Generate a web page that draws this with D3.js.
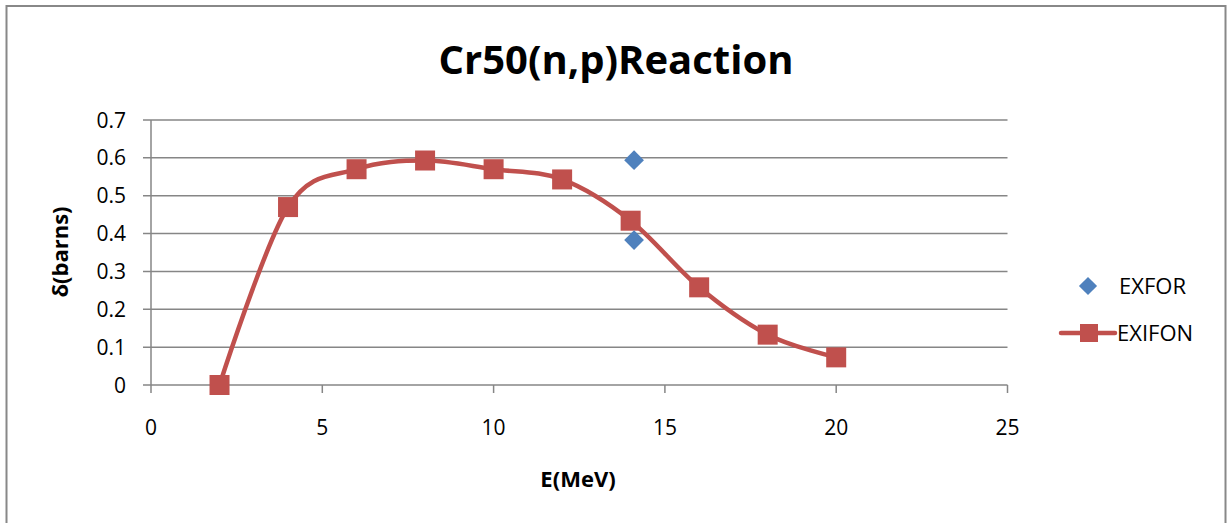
<!DOCTYPE html>
<html>
<head>
<meta charset="utf-8">
<script src="https://cdn.jsdelivr.net/npm/d3@7"></script>
<style>
  body { margin: 0; background: #fff; }
  text { font-family: "Open Sans", "Liberation Sans", sans-serif; fill: #000; }
</style>
</head>
<body>
<script>
// chart values
const exifonE = [2, 4, 6, 8, 10, 12, 14, 16, 18, 20]
const exifonXs = [0, 0.47, 0.57, 0.593, 0.57, 0.543, 0.434, 0.258, 0.133, 0.073]
const exforE = [14.1, 14.1]
const exforXs = [0.594, 0.383]
const xTicks = [0, 5, 10, 15, 20, 25]
const yTicks = [0, 0.1, 0.2, 0.3, 0.4, 0.5, 0.6, 0.7]

const m = { width: 1227, height: 523 }

const svg = d3.select('body').append('svg')
    .attr('width', m.width)
    .attr('height', m.height)

// outer chart border
svg.append('rect')
    .attr('x', 6.5).attr('y', 6)
    .attr('width', 1219).attr('height', 530)
    .attr('fill', 'none')
    .attr('stroke', '#888')
    .attr('stroke-width', 2)

const x = d3.scaleLinear().domain([0, 25]).range([151, 1007.5])
const y = d3.scaleLinear().domain([0, 0.7]).range([385, 120])

const g = svg.append('g')

// horizontal grid lines
g.selectAll('.grid')
    .data(yTicks)
    .enter()
    .append('line')
    .attr('x1', 143)
    .attr('x2', x(25))
    .attr('y1', d => y(d))
    .attr('y2', d => y(d))
    .attr('stroke', '#868686')
    .attr('stroke-width', 1.5)

// y axis line
g.append('line')
    .attr('x1', x(0)).attr('x2', x(0))
    .attr('y1', y(0.7)).attr('y2', y(0))
    .attr('stroke', '#868686')
    .attr('stroke-width', 1.5)

// x tick marks
g.selectAll('.xtick')
    .data(xTicks)
    .enter()
    .append('line')
    .attr('x1', d => x(d)).attr('x2', d => x(d))
    .attr('y1', y(0)).attr('y2', y(0) + 8)
    .attr('stroke', '#868686')
    .attr('stroke-width', 1.5)

// tick labels
g.selectAll('.ylab')
    .data(yTicks)
    .enter()
    .append('text')
    .attr('x', 126)
    .attr('y', d => y(d))
    .attr('dy', '0.36em')
    .attr('text-anchor', 'end')
    .style('font-size', '21px')
    .text(d => d3.format('.1~f')(d))

g.selectAll('.xlab')
    .data(xTicks)
    .enter()
    .append('text')
    .attr('x', d => x(d))
    .attr('y', 435)
    .attr('text-anchor', 'middle')
    .style('font-size', '21px')
    .text(d => d)

// titles
svg.append('text')
    .attr('x', 616).attr('y', 74)
    .attr('text-anchor', 'middle')
    .style('font-size', '40px')
    .style('font-weight', 'bold')
    .text('Cr50(n,p)Reaction')

svg.append('text')
    .attr('x', 578).attr('y', 487)
    .attr('text-anchor', 'middle')
    .style('font-size', '22px')
    .style('font-weight', 'bold')
    .text('E(MeV)')

svg.append('text')
    .attr('transform', 'translate(68,252) rotate(-90)')
    .attr('text-anchor', 'middle')
    .style('font-size', '22px')
    .style('font-weight', 'bold')
    .text('δ(barns)')

// EXIFON smooth line
const red = '#C0504D'
const blue = '#4F81BD'
const pts = exifonE.map((e, i) => [e, exifonXs[i]])

g.append('path')
    .datum(pts)
    .attr('fill', 'none')
    .attr('stroke', red)
    .attr('stroke-width', 4.5)
    .attr('stroke-linecap', 'round')
    .attr('d', d3.line()
        .x(d => x(d[0]))
        .y(d => y(d[1]))
        .curve(d3.curveCatmullRom.alpha(0)))

g.selectAll('.sq')
    .data(pts)
    .enter()
    .append('rect')
    .attr('x', d => x(d[0]) - 10)
    .attr('y', d => y(d[1]) - 10)
    .attr('width', 20)
    .attr('height', 20)
    .attr('fill', red)

// EXFOR diamonds
const diamond = d3.symbol().type(d3.symbolSquare).size(195)
g.selectAll('.dm')
    .data(exforE.map((e, i) => [e, exforXs[i]]))
    .enter()
    .append('path')
    .attr('d', diamond)
    .attr('transform', d => `translate(${x(d[0])},${y(d[1])}) rotate(45)`)
    .attr('fill', blue)

// legend
const lg = svg.append('g')
lg.append('path')
    .attr('d', d3.symbol().type(d3.symbolSquare).size(165))
    .attr('transform', 'translate(1088,286) rotate(45)')
    .attr('fill', blue)
lg.append('text')
    .attr('x', 1119).attr('y', 286)
    .attr('dy', '0.36em')
    .style('font-size', '22px')
    .text('EXFOR')

lg.append('line')
    .attr('x1', 1061).attr('x2', 1115)
    .attr('y1', 333).attr('y2', 333)
    .attr('stroke', red)
    .attr('stroke-width', 4.5)
    .attr('stroke-linecap', 'round')
lg.append('rect')
    .attr('x', 1080).attr('y', 324)
    .attr('width', 18).attr('height', 18)
    .attr('fill', red)
lg.append('text')
    .attr('x', 1117).attr('y', 333)
    .attr('dy', '0.36em')
    .style('font-size', '22px')
    .text('EXIFON')
</script>
</body>
</html>
